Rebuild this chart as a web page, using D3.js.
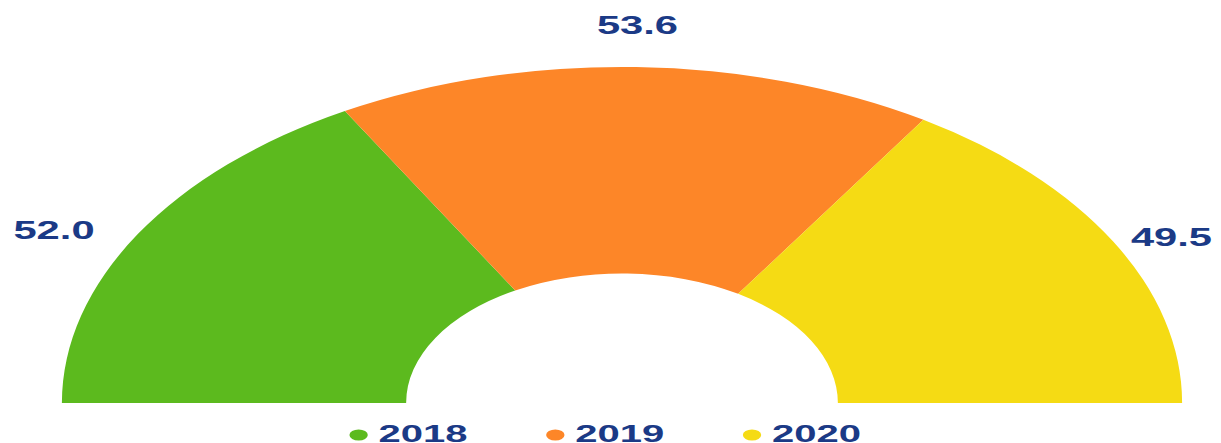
<!DOCTYPE html>
<html>
<head>
<meta charset="utf-8">
<script src="https://cdn.jsdelivr.net/npm/d3@7"></script>
<style>
  body { margin: 0; background: #fff; }
  text { font-family: "Liberation Sans", Arial, sans-serif; font-weight: bold; }
</style>
</head>
<body>
<div id="wrapper"></div>
<script>
// data
const years = ["2018", "2019", "2020"];
const values = [52.0, 53.6, 49.5];
const colors = ["#5cba1e", "#fd8628", "#f5db14"];

function buildChart() {
    const dimension = { width: 1221, height: 443 };
    // the whole chart is stretched sideways in the picture
    const stretchX = 1.667;
    const cx = 622, cy = 403;
    const outerR = 336;
    const innerR = 129.5;
    const textColor = "#1b3a86";

    const svg = d3.select("#wrapper").append("svg")
        .attr("width", dimension.width)
        .attr("height", dimension.height);

    const bounded = svg.append("g")
        .attr("transform", `translate(${cx},${cy}) scale(${stretchX},1)`);

    const rows = years.map((y, i) => ({ year: y, value: values[i], color: colors[i] }));

    const pie = d3.pie()
        .sort(null)
        .value(d => d.value)
        .startAngle(-Math.PI / 2)
        .endAngle(Math.PI / 2);
    const arcs = pie(rows);

    const arc = d3.arc().innerRadius(innerR).outerRadius(outerR);

    bounded.selectAll("path.slice")
        .data(arcs)
        .join("path")
        .attr("class", "slice")
        .attr("d", arc)
        .attr("fill", d => d.data.color);

    // value labels outside the arc; the top one sits a bit further out
    const labelX = a => 366 * Math.sin(a);
    const labelY = a => -(342 + 36 * Math.pow(Math.cos(a), 4)) * Math.cos(a);
    const rightLimit = (dimension.width - 9 - cx) / stretchX;

    const labels = bounded.selectAll("text.value")
        .data(arcs)
        .join("text")
        .attr("class", "value")
        .attr("x", d => labelX((d.startAngle + d.endAngle) / 2))
        .attr("y", d => labelY((d.startAngle + d.endAngle) / 2))
        .attr("text-anchor", d => {
            const mid = (d.startAngle + d.endAngle) / 2;
            if (Math.abs(mid) < 0.3) return "middle";
            return mid < 0 ? "end" : "start";
        })
        .attr("dominant-baseline", "central")
        .attr("font-size", 25)
        .attr("fill", textColor)
        .text(d => d3.format(".1f")(d.data.value));

    // keep labels inside the picture
    labels.each(function () {
        const t = d3.select(this);
        if (t.attr("text-anchor") !== "start") return;
        const len = this.getComputedTextLength();
        const x = +t.attr("x");
        if (x + len > rightLimit) t.attr("x", rightLimit - len);
    });

    // legend
    const legend = bounded.append("g")
        .attr("transform", "translate(-158,0)");
    const item = legend.selectAll("g")
        .data(rows)
        .join("g")
        .attr("transform", (d, i) => `translate(${i * 118},0)`);
    item.append("circle")
        .attr("cy", 32)
        .attr("r", 5.5)
        .attr("fill", d => d.color);
    item.append("text")
        .attr("x", 12)
        .attr("y", 39)
        .attr("font-size", 24)
        .attr("fill", textColor)
        .text(d => d.year);
}

buildChart();
</script>
</body>
</html>
